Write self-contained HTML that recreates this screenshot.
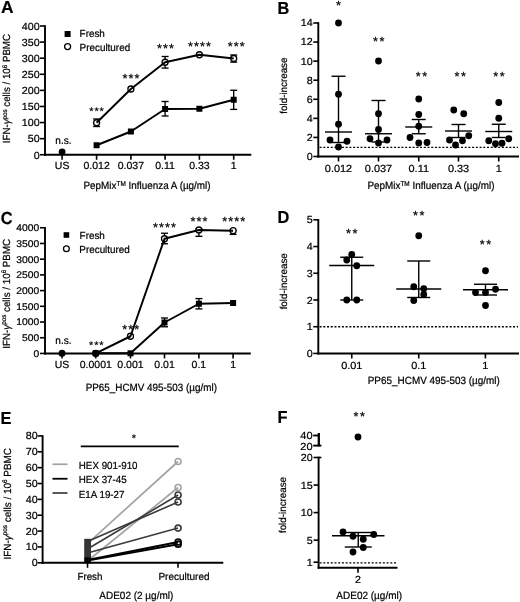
<!DOCTYPE html>
<html lang="en">
<head>
<meta charset="utf-8">
<title>Figure: IFN-γ responses of fresh vs precultured PBMC</title>
<style>
html,body{margin:0;padding:0;background:#fff;}
body{width:520px;height:602px;overflow:hidden;}
svg{display:block;font-family:'Liberation Sans', sans-serif;}
svg text{text-rendering:geometricPrecision;fill:#000;stroke:#000;stroke-width:0.22px;stroke-linejoin:round;}
svg text.st{font-family:'Liberation Mono',monospace;text-anchor:start;}
svg text.big{stroke-width:0.2px;}
</style>
</head>
<body>
<svg width="520" height="602" viewBox="0 0 520 602">
<rect x="0" y="0" width="520" height="602" fill="#fff"/>
<text x="0.90" y="13.20" font-size="17.4" text-anchor="start" font-weight="bold" fill="#000" class="big">A</text>
<line x1="45.00" y1="25.20" x2="45.00" y2="155.70" stroke="#000" stroke-width="1.9" />
<line x1="40.00" y1="154.75" x2="45.00" y2="154.75" stroke="#000" stroke-width="1.6" />
<text transform="translate(39.60,158.55) scale(1.04,1)" font-size="10.3" text-anchor="end" font-weight="normal" fill="#000" >0</text>
<line x1="40.00" y1="138.66" x2="45.00" y2="138.66" stroke="#000" stroke-width="1.6" />
<text transform="translate(39.60,142.46) scale(1.04,1)" font-size="10.3" text-anchor="end" font-weight="normal" fill="#000" >50</text>
<line x1="40.00" y1="122.56" x2="45.00" y2="122.56" stroke="#000" stroke-width="1.6" />
<text transform="translate(39.60,126.36) scale(1.04,1)" font-size="10.3" text-anchor="end" font-weight="normal" fill="#000" >100</text>
<line x1="40.00" y1="106.47" x2="45.00" y2="106.47" stroke="#000" stroke-width="1.6" />
<text transform="translate(39.60,110.27) scale(1.04,1)" font-size="10.3" text-anchor="end" font-weight="normal" fill="#000" >150</text>
<line x1="40.00" y1="90.38" x2="45.00" y2="90.38" stroke="#000" stroke-width="1.6" />
<text transform="translate(39.60,94.17) scale(1.04,1)" font-size="10.3" text-anchor="end" font-weight="normal" fill="#000" >200</text>
<line x1="40.00" y1="74.28" x2="45.00" y2="74.28" stroke="#000" stroke-width="1.6" />
<text transform="translate(39.60,78.08) scale(1.04,1)" font-size="10.3" text-anchor="end" font-weight="normal" fill="#000" >250</text>
<line x1="40.00" y1="58.19" x2="45.00" y2="58.19" stroke="#000" stroke-width="1.6" />
<text transform="translate(39.60,61.99) scale(1.04,1)" font-size="10.3" text-anchor="end" font-weight="normal" fill="#000" >300</text>
<line x1="40.00" y1="42.09" x2="45.00" y2="42.09" stroke="#000" stroke-width="1.6" />
<text transform="translate(39.60,45.89) scale(1.04,1)" font-size="10.3" text-anchor="end" font-weight="normal" fill="#000" >350</text>
<line x1="40.00" y1="26.00" x2="45.00" y2="26.00" stroke="#000" stroke-width="1.6" />
<text transform="translate(39.60,29.80) scale(1.04,1)" font-size="10.3" text-anchor="end" font-weight="normal" fill="#000" >400</text>
<line x1="44.05" y1="154.75" x2="251.30" y2="154.75" stroke="#000" stroke-width="1.9" />
<line x1="62.10" y1="154.75" x2="62.10" y2="159.75" stroke="#000" stroke-width="1.6" />
<text transform="translate(62.10,168.90) scale(1.02,1)" font-size="10.3" text-anchor="middle" font-weight="normal" fill="#000" >US</text>
<line x1="96.60" y1="154.75" x2="96.60" y2="159.75" stroke="#000" stroke-width="1.6" />
<text transform="translate(96.60,168.90) scale(1.02,1)" font-size="10.3" text-anchor="middle" font-weight="normal" fill="#000" >0.012</text>
<line x1="130.90" y1="154.75" x2="130.90" y2="159.75" stroke="#000" stroke-width="1.6" />
<text transform="translate(130.90,168.90) scale(1.02,1)" font-size="10.3" text-anchor="middle" font-weight="normal" fill="#000" >0.037</text>
<line x1="165.10" y1="154.75" x2="165.10" y2="159.75" stroke="#000" stroke-width="1.6" />
<text transform="translate(165.10,168.90) scale(1.02,1)" font-size="10.3" text-anchor="middle" font-weight="normal" fill="#000" >0.11</text>
<line x1="199.40" y1="154.75" x2="199.40" y2="159.75" stroke="#000" stroke-width="1.6" />
<text transform="translate(199.40,168.90) scale(1.02,1)" font-size="10.3" text-anchor="middle" font-weight="normal" fill="#000" >0.33</text>
<line x1="233.70" y1="154.75" x2="233.70" y2="159.75" stroke="#000" stroke-width="1.6" />
<text transform="translate(233.70,168.90) scale(1.02,1)" font-size="10.3" text-anchor="middle" font-weight="normal" fill="#000" >1</text>
<text transform="translate(10.40,88.60) rotate(-90) scale(0.945,1)" font-size="10.3" text-anchor="middle">IFN-<tspan font-style="italic">γ</tspan><tspan font-size="6.6" dy="-3.6">pos</tspan><tspan dy="3.6"> cells / 10</tspan><tspan font-size="6.6" dy="-3.6">6</tspan><tspan dy="3.6"> PBMC</tspan></text>
<text transform="translate(147.05,188.80) scale(0.942,1)" font-size="10.5" text-anchor="middle" font-weight="normal" fill="#000" >PepMix<tspan font-size="6.8" dy="-3.2">TM</tspan><tspan dy="3.2"> Influenza A (µg/ml)</tspan></text>
<rect x="64.60" y="31.00" width="6.0" height="6.0" fill="#000"/>
<text transform="translate(79.60,37.00) scale(0.96,1)" font-size="10.3" text-anchor="start" font-weight="normal" fill="#000" >Fresh</text>
<circle cx="67.60" cy="46.60" r="3.0" fill="#fff" stroke="#000" stroke-width="1.3"/>
<text transform="translate(79.60,51.20) scale(0.96,1)" font-size="10.3" text-anchor="start" font-weight="normal" fill="#000" >Precultured</text>
<line x1="96.60" y1="119.00" x2="96.60" y2="126.50" stroke="#000" stroke-width="1.35" />
<line x1="93.10" y1="119.00" x2="100.10" y2="119.00" stroke="#000" stroke-width="1.35" />
<line x1="93.10" y1="126.50" x2="100.10" y2="126.50" stroke="#000" stroke-width="1.35" />
<circle cx="96.60" cy="122.75" r="3.0" fill="#fff" stroke="#000" stroke-width="1.3"/>
<circle cx="130.90" cy="89.00" r="3.0" fill="#fff" stroke="#000" stroke-width="1.3"/>
<line x1="165.10" y1="56.50" x2="165.10" y2="68.10" stroke="#000" stroke-width="1.35" />
<line x1="161.60" y1="56.50" x2="168.60" y2="56.50" stroke="#000" stroke-width="1.35" />
<line x1="161.60" y1="68.10" x2="168.60" y2="68.10" stroke="#000" stroke-width="1.35" />
<circle cx="165.10" cy="62.25" r="3.0" fill="#fff" stroke="#000" stroke-width="1.3"/>
<circle cx="199.40" cy="54.75" r="3.0" fill="#fff" stroke="#000" stroke-width="1.3"/>
<line x1="233.70" y1="55.00" x2="233.70" y2="62.10" stroke="#000" stroke-width="1.35" />
<line x1="230.20" y1="55.00" x2="237.20" y2="55.00" stroke="#000" stroke-width="1.35" />
<line x1="230.20" y1="62.10" x2="237.20" y2="62.10" stroke="#000" stroke-width="1.35" />
<circle cx="233.70" cy="58.50" r="3.0" fill="#fff" stroke="#000" stroke-width="1.3"/>
<rect x="93.60" y="142.25" width="6.0" height="6.0" fill="#000"/>
<rect x="127.90" y="128.50" width="6.0" height="6.0" fill="#000"/>
<line x1="165.10" y1="101.50" x2="165.10" y2="116.00" stroke="#000" stroke-width="1.35" />
<line x1="161.60" y1="101.50" x2="168.60" y2="101.50" stroke="#000" stroke-width="1.35" />
<line x1="161.60" y1="116.00" x2="168.60" y2="116.00" stroke="#000" stroke-width="1.35" />
<rect x="162.10" y="106.00" width="6.0" height="6.0" fill="#000"/>
<rect x="196.40" y="105.75" width="6.0" height="6.0" fill="#000"/>
<line x1="233.70" y1="90.25" x2="233.70" y2="109.40" stroke="#000" stroke-width="1.35" />
<line x1="230.20" y1="90.25" x2="237.20" y2="90.25" stroke="#000" stroke-width="1.35" />
<line x1="230.20" y1="109.40" x2="237.20" y2="109.40" stroke="#000" stroke-width="1.35" />
<rect x="230.70" y="96.75" width="6.0" height="6.0" fill="#000"/>
<polyline points="96.60,145.25 130.90,131.50 165.10,109.00 199.40,108.75 233.70,99.75" fill="none" stroke="#000" stroke-width="1.95" stroke-linejoin="round"/>
<polyline points="96.60,122.75 130.90,89.00 165.10,62.25 199.40,54.75 233.70,58.50" fill="none" stroke="#000" stroke-width="1.95" stroke-linejoin="round"/>
<circle cx="62.10" cy="152.00" r="3.4" fill="#000" stroke="none" stroke-width="0"/>
<text transform="translate(63.40,143.60) scale(0.95,1)" font-size="10.6" text-anchor="middle" font-weight="normal" fill="#000" >n.s.</text>
<text class="st" x="88.35" y="115.44" font-size="10.5" letter-spacing="-1.20" stroke-width="0.55">***</text>
<text class="st" x="121.25" y="83.03" font-size="12.5" letter-spacing="-1.50" stroke-width="0.7">***</text>
<text class="st" x="155.75" y="53.12" font-size="12.5" letter-spacing="-1.50" stroke-width="0.7">***</text>
<text class="st" x="186.85" y="50.73" font-size="12.5" letter-spacing="-1.50" stroke-width="0.7">****</text>
<text class="st" x="226.45" y="51.12" font-size="12.5" letter-spacing="-1.50" stroke-width="0.7">***</text>
<text transform="translate(277.60,13.50) scale(0.94,1)" font-size="17.4" text-anchor="start" font-weight="bold" fill="#000" class="big">B</text>
<line x1="318.30" y1="22.20" x2="318.30" y2="157.45" stroke="#000" stroke-width="1.9" />
<line x1="313.30" y1="156.50" x2="318.30" y2="156.50" stroke="#000" stroke-width="1.6" />
<text transform="translate(312.60,159.90) scale(1.04,1)" font-size="10.3" text-anchor="end" font-weight="normal" fill="#000" >0</text>
<line x1="313.30" y1="137.43" x2="318.30" y2="137.43" stroke="#000" stroke-width="1.6" />
<text transform="translate(312.60,140.83) scale(1.04,1)" font-size="10.3" text-anchor="end" font-weight="normal" fill="#000" >2</text>
<line x1="313.30" y1="118.36" x2="318.30" y2="118.36" stroke="#000" stroke-width="1.6" />
<text transform="translate(312.60,121.76) scale(1.04,1)" font-size="10.3" text-anchor="end" font-weight="normal" fill="#000" >4</text>
<line x1="313.30" y1="99.29" x2="318.30" y2="99.29" stroke="#000" stroke-width="1.6" />
<text transform="translate(312.60,102.69) scale(1.04,1)" font-size="10.3" text-anchor="end" font-weight="normal" fill="#000" >6</text>
<line x1="313.30" y1="80.21" x2="318.30" y2="80.21" stroke="#000" stroke-width="1.6" />
<text transform="translate(312.60,83.61) scale(1.04,1)" font-size="10.3" text-anchor="end" font-weight="normal" fill="#000" >8</text>
<line x1="313.30" y1="61.14" x2="318.30" y2="61.14" stroke="#000" stroke-width="1.6" />
<text transform="translate(312.60,64.54) scale(1.04,1)" font-size="10.3" text-anchor="end" font-weight="normal" fill="#000" >10</text>
<line x1="313.30" y1="42.07" x2="318.30" y2="42.07" stroke="#000" stroke-width="1.6" />
<text transform="translate(312.60,45.47) scale(1.04,1)" font-size="10.3" text-anchor="end" font-weight="normal" fill="#000" >12</text>
<line x1="313.30" y1="23.00" x2="318.30" y2="23.00" stroke="#000" stroke-width="1.6" />
<text transform="translate(312.60,26.40) scale(1.04,1)" font-size="10.3" text-anchor="end" font-weight="normal" fill="#000" >14</text>
<line x1="317.35" y1="156.50" x2="519.00" y2="156.50" stroke="#000" stroke-width="1.9" />
<line x1="338.50" y1="156.50" x2="338.50" y2="161.50" stroke="#000" stroke-width="1.6" />
<text transform="translate(338.50,171.80) scale(1.06,1)" font-size="10.3" text-anchor="middle" font-weight="normal" fill="#000" >0.012</text>
<line x1="378.50" y1="156.50" x2="378.50" y2="161.50" stroke="#000" stroke-width="1.6" />
<text transform="translate(378.50,171.80) scale(1.06,1)" font-size="10.3" text-anchor="middle" font-weight="normal" fill="#000" >0.037</text>
<line x1="418.75" y1="156.50" x2="418.75" y2="161.50" stroke="#000" stroke-width="1.6" />
<text transform="translate(418.75,171.80) scale(1.06,1)" font-size="10.3" text-anchor="middle" font-weight="normal" fill="#000" >0.11</text>
<line x1="458.50" y1="156.50" x2="458.50" y2="161.50" stroke="#000" stroke-width="1.6" />
<text transform="translate(458.50,171.80) scale(1.06,1)" font-size="10.3" text-anchor="middle" font-weight="normal" fill="#000" >0.33</text>
<line x1="498.75" y1="156.50" x2="498.75" y2="161.50" stroke="#000" stroke-width="1.6" />
<text transform="translate(498.75,171.80) scale(1.06,1)" font-size="10.3" text-anchor="middle" font-weight="normal" fill="#000" >1</text>
<text transform="translate(286.80,85.60) rotate(-90) scale(0.98,1)" font-size="10.0" text-anchor="middle">fold-increase</text>
<text transform="translate(431.00,188.70) scale(0.942,1)" font-size="10.5" text-anchor="middle" font-weight="normal" fill="#000" >PepMix<tspan font-size="6.8" dy="-3.2">TM</tspan><tspan dy="3.2"> Influenza A (µg/ml)</tspan></text>
<line x1="319.60" y1="147.40" x2="518.00" y2="147.40" stroke="#000" stroke-width="1.4" stroke-dasharray="2 1.72"/>
<line x1="338.50" y1="76.25" x2="338.50" y2="142.50" stroke="#000" stroke-width="1.4" />
<line x1="331.50" y1="76.25" x2="345.50" y2="76.25" stroke="#000" stroke-width="1.4" />
<line x1="331.50" y1="142.50" x2="345.50" y2="142.50" stroke="#000" stroke-width="1.4" />
<line x1="325.00" y1="132.00" x2="352.00" y2="132.00" stroke="#000" stroke-width="1.4" />
<circle cx="338.50" cy="23.00" r="3.4" fill="#000" stroke="none" stroke-width="0"/>
<circle cx="338.50" cy="94.25" r="3.4" fill="#000" stroke="none" stroke-width="0"/>
<circle cx="338.50" cy="124.25" r="3.4" fill="#000" stroke="none" stroke-width="0"/>
<circle cx="330.00" cy="140.00" r="3.4" fill="#000" stroke="none" stroke-width="0"/>
<circle cx="347.00" cy="141.25" r="3.4" fill="#000" stroke="none" stroke-width="0"/>
<circle cx="338.50" cy="147.00" r="3.4" fill="#000" stroke="none" stroke-width="0"/>
<line x1="378.50" y1="100.50" x2="378.50" y2="142.00" stroke="#000" stroke-width="1.4" />
<line x1="371.50" y1="100.50" x2="385.50" y2="100.50" stroke="#000" stroke-width="1.4" />
<line x1="371.50" y1="142.00" x2="385.50" y2="142.00" stroke="#000" stroke-width="1.4" />
<line x1="365.00" y1="133.75" x2="392.00" y2="133.75" stroke="#000" stroke-width="1.4" />
<circle cx="378.50" cy="61.00" r="3.4" fill="#000" stroke="none" stroke-width="0"/>
<circle cx="378.50" cy="113.75" r="3.4" fill="#000" stroke="none" stroke-width="0"/>
<circle cx="378.50" cy="129.50" r="3.4" fill="#000" stroke="none" stroke-width="0"/>
<circle cx="370.00" cy="138.75" r="3.4" fill="#000" stroke="none" stroke-width="0"/>
<circle cx="387.00" cy="140.00" r="3.4" fill="#000" stroke="none" stroke-width="0"/>
<circle cx="378.50" cy="143.00" r="3.4" fill="#000" stroke="none" stroke-width="0"/>
<line x1="418.75" y1="119.50" x2="418.75" y2="133.75" stroke="#000" stroke-width="1.4" />
<line x1="411.75" y1="119.50" x2="425.75" y2="119.50" stroke="#000" stroke-width="1.4" />
<line x1="411.75" y1="133.75" x2="425.75" y2="133.75" stroke="#000" stroke-width="1.4" />
<line x1="405.25" y1="127.00" x2="432.25" y2="127.00" stroke="#000" stroke-width="1.4" />
<circle cx="418.75" cy="99.00" r="3.4" fill="#000" stroke="none" stroke-width="0"/>
<circle cx="418.75" cy="114.50" r="3.4" fill="#000" stroke="none" stroke-width="0"/>
<circle cx="418.75" cy="126.25" r="3.4" fill="#000" stroke="none" stroke-width="0"/>
<circle cx="410.00" cy="137.50" r="3.4" fill="#000" stroke="none" stroke-width="0"/>
<circle cx="418.75" cy="143.00" r="3.4" fill="#000" stroke="none" stroke-width="0"/>
<circle cx="427.00" cy="142.50" r="3.4" fill="#000" stroke="none" stroke-width="0"/>
<line x1="458.50" y1="124.50" x2="458.50" y2="137.50" stroke="#000" stroke-width="1.4" />
<line x1="451.50" y1="124.50" x2="465.50" y2="124.50" stroke="#000" stroke-width="1.4" />
<line x1="451.50" y1="137.50" x2="465.50" y2="137.50" stroke="#000" stroke-width="1.4" />
<line x1="445.00" y1="131.00" x2="472.00" y2="131.00" stroke="#000" stroke-width="1.4" />
<circle cx="453.75" cy="110.00" r="3.4" fill="#000" stroke="none" stroke-width="0"/>
<circle cx="463.75" cy="113.75" r="3.4" fill="#000" stroke="none" stroke-width="0"/>
<circle cx="468.75" cy="135.75" r="3.4" fill="#000" stroke="none" stroke-width="0"/>
<circle cx="449.50" cy="140.00" r="3.4" fill="#000" stroke="none" stroke-width="0"/>
<circle cx="462.50" cy="140.75" r="3.4" fill="#000" stroke="none" stroke-width="0"/>
<circle cx="455.50" cy="145.00" r="3.4" fill="#000" stroke="none" stroke-width="0"/>
<line x1="498.75" y1="124.25" x2="498.75" y2="137.50" stroke="#000" stroke-width="1.4" />
<line x1="491.75" y1="124.25" x2="505.75" y2="124.25" stroke="#000" stroke-width="1.4" />
<line x1="491.75" y1="137.50" x2="505.75" y2="137.50" stroke="#000" stroke-width="1.4" />
<line x1="485.25" y1="131.50" x2="512.25" y2="131.50" stroke="#000" stroke-width="1.4" />
<circle cx="498.75" cy="102.50" r="3.4" fill="#000" stroke="none" stroke-width="0"/>
<circle cx="498.75" cy="118.25" r="3.4" fill="#000" stroke="none" stroke-width="0"/>
<circle cx="508.75" cy="138.75" r="3.4" fill="#000" stroke="none" stroke-width="0"/>
<circle cx="488.75" cy="140.75" r="3.4" fill="#000" stroke="none" stroke-width="0"/>
<circle cx="495.50" cy="143.75" r="3.4" fill="#000" stroke="none" stroke-width="0"/>
<circle cx="502.00" cy="143.25" r="3.4" fill="#000" stroke="none" stroke-width="0"/>
<text class="st" x="334.75" y="9.72" font-size="12.5" letter-spacing="-1.50" stroke-width="0.7">*</text>
<text class="st" x="371.65" y="46.12" font-size="12.5" letter-spacing="-1.00" stroke-width="0.7">**</text>
<text class="st" x="414.50" y="81.12" font-size="12.5" letter-spacing="-1.00" stroke-width="0.7">**</text>
<text class="st" x="453.25" y="81.12" font-size="12.5" letter-spacing="-1.00" stroke-width="0.7">**</text>
<text class="st" x="492.00" y="81.12" font-size="12.5" letter-spacing="-1.00" stroke-width="0.7">**</text>
<text transform="translate(0.80,223.80) scale(0.94,1)" font-size="17.4" text-anchor="start" font-weight="bold" fill="#000" class="big">C</text>
<line x1="45.00" y1="226.95" x2="45.00" y2="354.40" stroke="#000" stroke-width="1.9" />
<line x1="40.00" y1="353.45" x2="45.00" y2="353.45" stroke="#000" stroke-width="1.6" />
<text transform="translate(39.20,356.85) scale(1.06,1)" font-size="9.7" text-anchor="end" font-weight="normal" fill="#000" >0</text>
<line x1="40.00" y1="337.74" x2="45.00" y2="337.74" stroke="#000" stroke-width="1.6" />
<text transform="translate(39.20,341.14) scale(1.06,1)" font-size="9.7" text-anchor="end" font-weight="normal" fill="#000" >500</text>
<line x1="40.00" y1="322.02" x2="45.00" y2="322.02" stroke="#000" stroke-width="1.6" />
<text transform="translate(39.20,325.42) scale(1.06,1)" font-size="9.7" text-anchor="end" font-weight="normal" fill="#000" >1000</text>
<line x1="40.00" y1="306.31" x2="45.00" y2="306.31" stroke="#000" stroke-width="1.6" />
<text transform="translate(39.20,309.71) scale(1.06,1)" font-size="9.7" text-anchor="end" font-weight="normal" fill="#000" >1500</text>
<line x1="40.00" y1="290.60" x2="45.00" y2="290.60" stroke="#000" stroke-width="1.6" />
<text transform="translate(39.20,294.00) scale(1.06,1)" font-size="9.7" text-anchor="end" font-weight="normal" fill="#000" >2000</text>
<line x1="40.00" y1="274.89" x2="45.00" y2="274.89" stroke="#000" stroke-width="1.6" />
<text transform="translate(39.20,278.29) scale(1.06,1)" font-size="9.7" text-anchor="end" font-weight="normal" fill="#000" >2500</text>
<line x1="40.00" y1="259.18" x2="45.00" y2="259.18" stroke="#000" stroke-width="1.6" />
<text transform="translate(39.20,262.57) scale(1.06,1)" font-size="9.7" text-anchor="end" font-weight="normal" fill="#000" >3000</text>
<line x1="40.00" y1="243.46" x2="45.00" y2="243.46" stroke="#000" stroke-width="1.6" />
<text transform="translate(39.20,246.86) scale(1.06,1)" font-size="9.7" text-anchor="end" font-weight="normal" fill="#000" >3500</text>
<line x1="40.00" y1="227.75" x2="45.00" y2="227.75" stroke="#000" stroke-width="1.6" />
<text transform="translate(39.20,231.15) scale(1.06,1)" font-size="9.7" text-anchor="end" font-weight="normal" fill="#000" >4000</text>
<line x1="44.05" y1="353.45" x2="250.80" y2="353.45" stroke="#000" stroke-width="1.9" />
<line x1="62.00" y1="353.45" x2="62.00" y2="358.45" stroke="#000" stroke-width="1.6" />
<text transform="translate(62.00,367.60) scale(1.02,1)" font-size="10.3" text-anchor="middle" font-weight="normal" fill="#000" >US</text>
<line x1="95.75" y1="353.45" x2="95.75" y2="358.45" stroke="#000" stroke-width="1.6" />
<text transform="translate(95.75,367.60) scale(1.02,1)" font-size="10.3" text-anchor="middle" font-weight="normal" fill="#000" >0.0001</text>
<line x1="130.50" y1="353.45" x2="130.50" y2="358.45" stroke="#000" stroke-width="1.6" />
<text transform="translate(130.50,367.60) scale(1.02,1)" font-size="10.3" text-anchor="middle" font-weight="normal" fill="#000" >0.001</text>
<line x1="164.50" y1="353.45" x2="164.50" y2="358.45" stroke="#000" stroke-width="1.6" />
<text transform="translate(164.50,367.60) scale(1.02,1)" font-size="10.3" text-anchor="middle" font-weight="normal" fill="#000" >0.01</text>
<line x1="198.90" y1="353.45" x2="198.90" y2="358.45" stroke="#000" stroke-width="1.6" />
<text transform="translate(198.90,367.60) scale(1.02,1)" font-size="10.3" text-anchor="middle" font-weight="normal" fill="#000" >0.1</text>
<line x1="233.10" y1="353.45" x2="233.10" y2="358.45" stroke="#000" stroke-width="1.6" />
<text transform="translate(233.10,367.60) scale(1.02,1)" font-size="10.3" text-anchor="middle" font-weight="normal" fill="#000" >1</text>
<text transform="translate(9.60,293.80) rotate(-90) scale(0.95,1)" font-size="10.3" text-anchor="middle">IFN-<tspan font-style="italic">γ</tspan><tspan font-size="6.6" dy="-3.6">pos</tspan><tspan dy="3.6"> cells / 10</tspan><tspan font-size="6.6" dy="-3.6">6</tspan><tspan dy="3.6"> PBMC</tspan></text>
<text transform="translate(151.30,390.60) scale(0.94,1)" font-size="10.5" text-anchor="middle" font-weight="normal" fill="#000" >PP65_HCMV 495-503 (µg/ml)</text>
<rect x="63.60" y="232.20" width="5.6" height="5.6" fill="#000"/>
<text transform="translate(79.60,238.80) scale(0.96,1)" font-size="10.3" text-anchor="start" font-weight="normal" fill="#000" >Fresh</text>
<circle cx="66.40" cy="248.80" r="2.9" fill="#fff" stroke="#000" stroke-width="1.3"/>
<text transform="translate(79.30,252.60) scale(0.96,1)" font-size="10.3" text-anchor="start" font-weight="normal" fill="#000" >Precultured</text>
<circle cx="95.75" cy="353.30" r="3.0" fill="#fff" stroke="#000" stroke-width="1.3"/>
<circle cx="130.50" cy="336.25" r="3.0" fill="#fff" stroke="#000" stroke-width="1.3"/>
<line x1="164.50" y1="233.25" x2="164.50" y2="243.75" stroke="#000" stroke-width="1.35" />
<line x1="161.00" y1="233.25" x2="168.00" y2="233.25" stroke="#000" stroke-width="1.35" />
<line x1="161.00" y1="243.75" x2="168.00" y2="243.75" stroke="#000" stroke-width="1.35" />
<circle cx="164.50" cy="238.75" r="3.0" fill="#fff" stroke="#000" stroke-width="1.3"/>
<line x1="198.90" y1="229.00" x2="198.90" y2="236.30" stroke="#000" stroke-width="1.35" />
<line x1="195.40" y1="229.00" x2="202.40" y2="229.00" stroke="#000" stroke-width="1.35" />
<line x1="195.40" y1="236.30" x2="202.40" y2="236.30" stroke="#000" stroke-width="1.35" />
<circle cx="198.90" cy="230.00" r="3.0" fill="#fff" stroke="#000" stroke-width="1.3"/>
<line x1="233.10" y1="230.50" x2="233.10" y2="234.40" stroke="#000" stroke-width="1.35" />
<line x1="229.60" y1="230.50" x2="236.60" y2="230.50" stroke="#000" stroke-width="1.35" />
<line x1="229.60" y1="234.40" x2="236.60" y2="234.40" stroke="#000" stroke-width="1.35" />
<circle cx="233.10" cy="230.70" r="3.0" fill="#fff" stroke="#000" stroke-width="1.3"/>
<rect x="92.75" y="350.30" width="6.0" height="6.0" fill="#000"/>
<rect x="127.50" y="350.30" width="6.0" height="6.0" fill="#000"/>
<line x1="164.50" y1="318.00" x2="164.50" y2="326.75" stroke="#000" stroke-width="1.35" />
<line x1="161.00" y1="318.00" x2="168.00" y2="318.00" stroke="#000" stroke-width="1.35" />
<line x1="161.00" y1="326.75" x2="168.00" y2="326.75" stroke="#000" stroke-width="1.35" />
<rect x="161.50" y="319.50" width="6.0" height="6.0" fill="#000"/>
<line x1="198.90" y1="298.60" x2="198.90" y2="308.90" stroke="#000" stroke-width="1.35" />
<line x1="195.40" y1="298.60" x2="202.40" y2="298.60" stroke="#000" stroke-width="1.35" />
<line x1="195.40" y1="308.90" x2="202.40" y2="308.90" stroke="#000" stroke-width="1.35" />
<rect x="195.90" y="300.75" width="6.0" height="6.0" fill="#000"/>
<rect x="230.10" y="300.00" width="6.0" height="6.0" fill="#000"/>
<polyline points="95.75,353.30 130.50,353.30 164.50,322.50 198.90,303.75 233.10,303.00" fill="none" stroke="#000" stroke-width="1.95" stroke-linejoin="round"/>
<polyline points="95.75,353.30 130.50,336.25 164.50,238.75 198.90,230.00 233.10,230.70" fill="none" stroke="#000" stroke-width="1.95" stroke-linejoin="round"/>
<circle cx="62.00" cy="353.30" r="3.5" fill="#000" stroke="none" stroke-width="0"/>
<circle cx="95.75" cy="353.30" r="3.4" fill="#000" stroke="none" stroke-width="0"/>
<text transform="translate(63.40,343.80) scale(0.95,1)" font-size="10.6" text-anchor="middle" font-weight="normal" fill="#000" >n.s.</text>
<text class="st" x="88.05" y="348.64" font-size="10.5" letter-spacing="-1.20" stroke-width="0.55">***</text>
<text class="st" x="121.05" y="334.12" font-size="12.5" letter-spacing="-1.50" stroke-width="0.7">***</text>
<text class="st" x="151.85" y="231.93" font-size="12.5" letter-spacing="-1.50" stroke-width="0.7">****</text>
<text class="st" x="189.25" y="226.43" font-size="12.5" letter-spacing="-1.50" stroke-width="0.7">***</text>
<text class="st" x="221.05" y="226.43" font-size="12.5" letter-spacing="-1.50" stroke-width="0.7">****</text>
<text transform="translate(277.60,223.20) scale(0.94,1)" font-size="17.4" text-anchor="start" font-weight="bold" fill="#000" class="big">D</text>
<line x1="318.30" y1="219.00" x2="318.30" y2="354.40" stroke="#000" stroke-width="1.9" />
<line x1="313.30" y1="353.45" x2="318.30" y2="353.45" stroke="#000" stroke-width="1.6" />
<text transform="translate(312.60,357.05) scale(1.04,1)" font-size="10.3" text-anchor="end" font-weight="normal" fill="#000" >0</text>
<line x1="313.30" y1="326.72" x2="318.30" y2="326.72" stroke="#000" stroke-width="1.6" />
<text transform="translate(312.60,330.32) scale(1.04,1)" font-size="10.3" text-anchor="end" font-weight="normal" fill="#000" >1</text>
<line x1="313.30" y1="299.99" x2="318.30" y2="299.99" stroke="#000" stroke-width="1.6" />
<text transform="translate(312.60,303.59) scale(1.04,1)" font-size="10.3" text-anchor="end" font-weight="normal" fill="#000" >2</text>
<line x1="313.30" y1="273.26" x2="318.30" y2="273.26" stroke="#000" stroke-width="1.6" />
<text transform="translate(312.60,276.86) scale(1.04,1)" font-size="10.3" text-anchor="end" font-weight="normal" fill="#000" >3</text>
<line x1="313.30" y1="246.53" x2="318.30" y2="246.53" stroke="#000" stroke-width="1.6" />
<text transform="translate(312.60,250.13) scale(1.04,1)" font-size="10.3" text-anchor="end" font-weight="normal" fill="#000" >4</text>
<line x1="313.30" y1="219.80" x2="318.30" y2="219.80" stroke="#000" stroke-width="1.6" />
<text transform="translate(312.60,223.40) scale(1.04,1)" font-size="10.3" text-anchor="end" font-weight="normal" fill="#000" >5</text>
<line x1="317.35" y1="353.45" x2="519.00" y2="353.45" stroke="#000" stroke-width="1.9" />
<line x1="351.75" y1="353.45" x2="351.75" y2="358.45" stroke="#000" stroke-width="1.6" />
<text transform="translate(351.75,368.60) scale(1.06,1)" font-size="10.3" text-anchor="middle" font-weight="normal" fill="#000" >0.01</text>
<line x1="418.75" y1="353.45" x2="418.75" y2="358.45" stroke="#000" stroke-width="1.6" />
<text transform="translate(418.75,368.60) scale(1.06,1)" font-size="10.3" text-anchor="middle" font-weight="normal" fill="#000" >0.1</text>
<line x1="485.40" y1="353.45" x2="485.40" y2="358.45" stroke="#000" stroke-width="1.6" />
<text transform="translate(485.40,368.60) scale(1.06,1)" font-size="10.3" text-anchor="middle" font-weight="normal" fill="#000" >1</text>
<text transform="translate(287.20,281.30) rotate(-90) scale(0.98,1)" font-size="10.0" text-anchor="middle">fold-increase</text>
<text transform="translate(433.80,384.00) scale(0.946,1)" font-size="10.5" text-anchor="middle" font-weight="normal" fill="#000" >PP65_HCMV 495-503 (µg/ml)</text>
<line x1="319.60" y1="326.80" x2="518.00" y2="326.80" stroke="#000" stroke-width="1.4" stroke-dasharray="2 1.72"/>
<line x1="351.75" y1="257.25" x2="351.75" y2="300.00" stroke="#000" stroke-width="1.4" />
<line x1="340.25" y1="257.25" x2="363.25" y2="257.25" stroke="#000" stroke-width="1.4" />
<line x1="340.25" y1="300.00" x2="363.25" y2="300.00" stroke="#000" stroke-width="1.4" />
<line x1="329.25" y1="265.50" x2="374.25" y2="265.50" stroke="#000" stroke-width="1.4" />
<circle cx="351.75" cy="254.50" r="3.4" fill="#000" stroke="none" stroke-width="0"/>
<circle cx="346.75" cy="260.00" r="3.4" fill="#000" stroke="none" stroke-width="0"/>
<circle cx="356.75" cy="265.75" r="3.4" fill="#000" stroke="none" stroke-width="0"/>
<circle cx="346.75" cy="300.00" r="3.4" fill="#000" stroke="none" stroke-width="0"/>
<circle cx="356.75" cy="300.00" r="3.4" fill="#000" stroke="none" stroke-width="0"/>
<line x1="418.75" y1="261.00" x2="418.75" y2="297.50" stroke="#000" stroke-width="1.4" />
<line x1="407.25" y1="261.00" x2="430.25" y2="261.00" stroke="#000" stroke-width="1.4" />
<line x1="407.25" y1="297.50" x2="430.25" y2="297.50" stroke="#000" stroke-width="1.4" />
<line x1="396.25" y1="289.00" x2="441.25" y2="289.00" stroke="#000" stroke-width="1.4" />
<circle cx="418.75" cy="235.75" r="3.4" fill="#000" stroke="none" stroke-width="0"/>
<circle cx="413.75" cy="286.75" r="3.4" fill="#000" stroke="none" stroke-width="0"/>
<circle cx="423.75" cy="288.75" r="3.4" fill="#000" stroke="none" stroke-width="0"/>
<circle cx="423.75" cy="294.50" r="3.4" fill="#000" stroke="none" stroke-width="0"/>
<circle cx="413.75" cy="300.50" r="3.4" fill="#000" stroke="none" stroke-width="0"/>
<line x1="485.50" y1="284.25" x2="485.50" y2="295.00" stroke="#000" stroke-width="1.4" />
<line x1="474.00" y1="284.25" x2="497.00" y2="284.25" stroke="#000" stroke-width="1.4" />
<line x1="474.00" y1="295.00" x2="497.00" y2="295.00" stroke="#000" stroke-width="1.4" />
<line x1="463.00" y1="289.75" x2="508.00" y2="289.75" stroke="#000" stroke-width="1.4" />
<circle cx="485.50" cy="270.75" r="3.4" fill="#000" stroke="none" stroke-width="0"/>
<circle cx="495.50" cy="289.25" r="3.4" fill="#000" stroke="none" stroke-width="0"/>
<circle cx="475.50" cy="292.50" r="3.4" fill="#000" stroke="none" stroke-width="0"/>
<circle cx="485.50" cy="292.50" r="3.4" fill="#000" stroke="none" stroke-width="0"/>
<circle cx="485.50" cy="305.50" r="3.4" fill="#000" stroke="none" stroke-width="0"/>
<text class="st" x="344.75" y="237.88" font-size="12.5" letter-spacing="-1.00" stroke-width="0.7">**</text>
<text class="st" x="411.75" y="219.88" font-size="12.5" letter-spacing="-1.00" stroke-width="0.7">**</text>
<text class="st" x="478.50" y="249.12" font-size="12.5" letter-spacing="-1.00" stroke-width="0.7">**</text>
<text transform="translate(0.60,423.60) scale(0.94,1)" font-size="17.4" text-anchor="start" font-weight="bold" fill="#000" class="big">E</text>
<line x1="42.60" y1="435.15" x2="42.60" y2="563.75" stroke="#000" stroke-width="1.9" />
<line x1="37.60" y1="562.80" x2="42.60" y2="562.80" stroke="#000" stroke-width="1.6" />
<text transform="translate(37.60,566.25) scale(1.04,1)" font-size="10.3" text-anchor="end" font-weight="normal" fill="#000" >0</text>
<line x1="37.60" y1="546.94" x2="42.60" y2="546.94" stroke="#000" stroke-width="1.6" />
<text transform="translate(37.60,550.39) scale(1.04,1)" font-size="10.3" text-anchor="end" font-weight="normal" fill="#000" >10</text>
<line x1="37.60" y1="531.09" x2="42.60" y2="531.09" stroke="#000" stroke-width="1.6" />
<text transform="translate(37.60,534.54) scale(1.04,1)" font-size="10.3" text-anchor="end" font-weight="normal" fill="#000" >20</text>
<line x1="37.60" y1="515.23" x2="42.60" y2="515.23" stroke="#000" stroke-width="1.6" />
<text transform="translate(37.60,518.68) scale(1.04,1)" font-size="10.3" text-anchor="end" font-weight="normal" fill="#000" >30</text>
<line x1="37.60" y1="499.38" x2="42.60" y2="499.38" stroke="#000" stroke-width="1.6" />
<text transform="translate(37.60,502.82) scale(1.04,1)" font-size="10.3" text-anchor="end" font-weight="normal" fill="#000" >40</text>
<line x1="37.60" y1="483.52" x2="42.60" y2="483.52" stroke="#000" stroke-width="1.6" />
<text transform="translate(37.60,486.97) scale(1.04,1)" font-size="10.3" text-anchor="end" font-weight="normal" fill="#000" >50</text>
<line x1="37.60" y1="467.66" x2="42.60" y2="467.66" stroke="#000" stroke-width="1.6" />
<text transform="translate(37.60,471.11) scale(1.04,1)" font-size="10.3" text-anchor="end" font-weight="normal" fill="#000" >60</text>
<line x1="37.60" y1="451.81" x2="42.60" y2="451.81" stroke="#000" stroke-width="1.6" />
<text transform="translate(37.60,455.26) scale(1.04,1)" font-size="10.3" text-anchor="end" font-weight="normal" fill="#000" >70</text>
<line x1="37.60" y1="435.95" x2="42.60" y2="435.95" stroke="#000" stroke-width="1.6" />
<text transform="translate(37.60,439.40) scale(1.04,1)" font-size="10.3" text-anchor="end" font-weight="normal" fill="#000" >80</text>
<line x1="41.65" y1="562.80" x2="223.30" y2="562.80" stroke="#000" stroke-width="1.9" />
<line x1="87.50" y1="562.80" x2="87.50" y2="567.80" stroke="#000" stroke-width="1.6" />
<line x1="178.00" y1="562.80" x2="178.00" y2="567.80" stroke="#000" stroke-width="1.6" />
<text transform="translate(89.90,579.70) scale(0.95,1)" font-size="10.3" text-anchor="middle" font-weight="normal" fill="#000" >Fresh</text>
<text transform="translate(184.00,579.70) scale(0.97,1)" font-size="10.3" text-anchor="middle" font-weight="normal" fill="#000" >Precultured</text>
<text transform="translate(10.50,503.80) rotate(-90) scale(0.965,1)" font-size="10.3" text-anchor="middle">IFN-<tspan font-style="italic">γ</tspan><tspan font-size="6.6" dy="-3.6">pos</tspan><tspan dy="3.6"> cells / 10</tspan><tspan font-size="6.6" dy="-3.6">6</tspan><tspan dy="3.6"> PBMC</tspan></text>
<text transform="translate(136.30,598.90) scale(0.951,1)" font-size="10.5" text-anchor="middle" font-weight="normal" fill="#000" >ADE02 (2 µg/ml)</text>
<line x1="80.75" y1="446.40" x2="178.75" y2="446.40" stroke="#000" stroke-width="1.6" />
<text class="st" x="130.85" y="442.25" font-size="10.5" letter-spacing="-1.20" stroke-width="0.55">*</text>
<line x1="52.50" y1="464.25" x2="67.50" y2="464.25" stroke="#a3a3a3" stroke-width="1.7" />
<line x1="52.50" y1="478.75" x2="67.50" y2="478.75" stroke="#000" stroke-width="1.8" />
<line x1="52.50" y1="493.00" x2="67.50" y2="493.00" stroke="#3a3a3a" stroke-width="1.7" />
<text transform="translate(78.80,468.80) scale(0.95,1)" font-size="10.3" text-anchor="start" font-weight="normal" fill="#000" >HEX 901-910</text>
<text transform="translate(78.80,483.30) scale(0.95,1)" font-size="10.3" text-anchor="start" font-weight="normal" fill="#000" >HEX 37-45</text>
<text transform="translate(78.80,497.60) scale(0.95,1)" font-size="10.3" text-anchor="start" font-weight="normal" fill="#000" >E1A 19-27</text>
<line x1="87.50" y1="543.60" x2="178.10" y2="461.50" stroke="#a3a3a3" stroke-width="1.7" />
<line x1="87.50" y1="561.00" x2="178.10" y2="487.50" stroke="#a3a3a3" stroke-width="1.7" />
<line x1="87.50" y1="549.00" x2="178.10" y2="495.00" stroke="#3a3a3a" stroke-width="1.6" />
<line x1="87.50" y1="541.50" x2="178.10" y2="502.00" stroke="#3a3a3a" stroke-width="1.6" />
<line x1="87.50" y1="553.00" x2="178.10" y2="528.10" stroke="#3a3a3a" stroke-width="1.6" />
<line x1="87.50" y1="560.00" x2="178.10" y2="542.00" stroke="#000" stroke-width="1.9" />
<line x1="87.50" y1="560.60" x2="178.10" y2="544.20" stroke="#000" stroke-width="1.9" />
<rect x="84.2" y="538.8" width="6.8" height="19.5" fill="#353535"/>
<rect x="84.2" y="557.5" width="6.8" height="5.8" fill="#000"/>
<circle cx="178.10" cy="461.50" r="3.0" fill="none" stroke="#a3a3a3" stroke-width="1.6"/>
<circle cx="178.10" cy="487.50" r="3.0" fill="none" stroke="#a3a3a3" stroke-width="1.6"/>
<circle cx="178.10" cy="495.00" r="3.0" fill="none" stroke="#3a3a3a" stroke-width="1.6"/>
<circle cx="178.10" cy="502.00" r="3.0" fill="none" stroke="#3a3a3a" stroke-width="1.6"/>
<circle cx="178.10" cy="528.10" r="3.0" fill="none" stroke="#3a3a3a" stroke-width="1.6"/>
<circle cx="178.10" cy="542.00" r="3.0" fill="none" stroke="#000" stroke-width="1.7"/>
<circle cx="178.10" cy="544.20" r="3.0" fill="none" stroke="#000" stroke-width="1.7"/>
<text transform="translate(277.60,423.20) scale(0.94,1)" font-size="17.4" text-anchor="start" font-weight="bold" fill="#000" class="big">F</text>
<line x1="318.80" y1="433.00" x2="318.80" y2="446.30" stroke="#000" stroke-width="2.3" />
<line x1="313.20" y1="435.50" x2="318.60" y2="435.50" stroke="#000" stroke-width="1.8" />
<line x1="313.20" y1="445.60" x2="321.40" y2="445.60" stroke="#000" stroke-width="1.9" />
<text transform="translate(312.60,439.35) scale(1.07,1)" font-size="10.3" text-anchor="end" font-weight="normal" fill="#000" >40</text>
<text transform="translate(312.60,449.95) scale(1.07,1)" font-size="10.3" text-anchor="end" font-weight="normal" fill="#000" >20</text>
<line x1="318.60" y1="456.70" x2="318.60" y2="568.65" stroke="#000" stroke-width="1.9" />
<line x1="318.60" y1="457.50" x2="321.40" y2="457.50" stroke="#000" stroke-width="1.6" />
<line x1="313.60" y1="457.50" x2="318.60" y2="457.50" stroke="#000" stroke-width="1.6" />
<text transform="translate(312.60,461.20) scale(1.04,1)" font-size="10.3" text-anchor="end" font-weight="normal" fill="#000" >20</text>
<line x1="313.60" y1="485.05" x2="318.60" y2="485.05" stroke="#000" stroke-width="1.6" />
<text transform="translate(312.60,488.75) scale(1.04,1)" font-size="10.3" text-anchor="end" font-weight="normal" fill="#000" >15</text>
<line x1="313.60" y1="512.60" x2="318.60" y2="512.60" stroke="#000" stroke-width="1.6" />
<text transform="translate(312.60,516.30) scale(1.04,1)" font-size="10.3" text-anchor="end" font-weight="normal" fill="#000" >10</text>
<line x1="313.60" y1="540.15" x2="318.60" y2="540.15" stroke="#000" stroke-width="1.6" />
<text transform="translate(312.60,543.85) scale(1.04,1)" font-size="10.3" text-anchor="end" font-weight="normal" fill="#000" >5</text>
<line x1="313.60" y1="562.19" x2="318.60" y2="562.19" stroke="#000" stroke-width="1.6" />
<text transform="translate(312.60,565.89) scale(1.04,1)" font-size="10.3" text-anchor="end" font-weight="normal" fill="#000" >1</text>
<line x1="317.65" y1="567.70" x2="397.50" y2="567.70" stroke="#000" stroke-width="2.1" />
<line x1="358.00" y1="567.70" x2="358.00" y2="572.70" stroke="#000" stroke-width="1.6" />
<text transform="translate(358.00,582.60) scale(1.04,1)" font-size="10.3" text-anchor="middle" font-weight="normal" fill="#000" >2</text>
<text transform="translate(286.40,505.00) rotate(-90) scale(0.98,1)" font-size="10.0" text-anchor="middle">fold-increase</text>
<text transform="translate(369.20,598.80) scale(0.951,1)" font-size="10.5" text-anchor="middle" font-weight="normal" fill="#000" >ADE02 (µg/ml)</text>
<line x1="319.60" y1="562.90" x2="397.50" y2="562.90" stroke="#000" stroke-width="1.4" stroke-dasharray="2 1.72"/>
<circle cx="358.00" cy="437.00" r="3.4" fill="#000" stroke="none" stroke-width="0"/>
<text class="st" x="352.20" y="421.32" font-size="12.5" letter-spacing="-1.00" stroke-width="0.7">**</text>
<line x1="358.25" y1="532.50" x2="358.25" y2="547.00" stroke="#000" stroke-width="1.4" />
<line x1="344.75" y1="532.50" x2="371.75" y2="532.50" stroke="#000" stroke-width="1.4" />
<line x1="344.75" y1="547.00" x2="371.75" y2="547.00" stroke="#000" stroke-width="1.4" />
<line x1="332.00" y1="535.75" x2="384.50" y2="535.75" stroke="#000" stroke-width="1.4" />
<circle cx="343.00" cy="532.00" r="3.4" fill="#000" stroke="none" stroke-width="0"/>
<circle cx="373.75" cy="534.50" r="3.4" fill="#000" stroke="none" stroke-width="0"/>
<circle cx="353.00" cy="536.25" r="3.4" fill="#000" stroke="none" stroke-width="0"/>
<circle cx="363.25" cy="539.25" r="3.4" fill="#000" stroke="none" stroke-width="0"/>
<circle cx="363.25" cy="547.50" r="3.4" fill="#000" stroke="none" stroke-width="0"/>
<circle cx="353.00" cy="552.00" r="3.4" fill="#000" stroke="none" stroke-width="0"/>
</svg>
</body>
</html>
